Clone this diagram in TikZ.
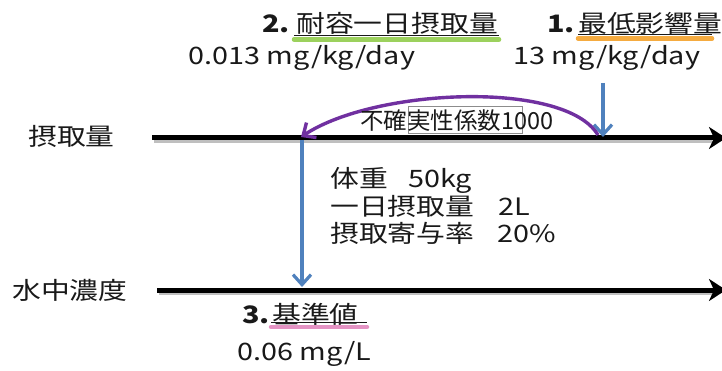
\documentclass[tikz,border=0pt]{standalone}
\usepackage{fontspec}
\setmainfont{Noto Sans CJK JP}[FakeStretch=1.2]
\newfontfamily\lblfont{Noto Sans CJK JP}
\usetikzlibrary{arrows.meta}
\definecolor{axblue}{RGB}{79,129,189}
\definecolor{arcpurple}{RGB}{112,48,160}
\definecolor{hlgreen}{RGB}{146,204,76}
\definecolor{hlorange}{RGB}{244,162,44}
\definecolor{hlpink}{RGB}{226,136,190}
\definecolor{txtgray}{RGB}{25,25,25}
\begin{document}
\begin{tikzpicture}[x=1pt,y=-1pt,
  txt/.style={inner sep=0pt, anchor=base west, text=txtgray, font=\fontsize{24}{28}\selectfont},
  lbl/.style={inner sep=0pt, anchor=base west, text=txtgray, font=\lblfont\fontsize{23.5}{26}\selectfont},
  axis/.style={line width=5pt, -{Stealth[length=17pt,width=22pt,inset=5pt]}},
  axshadow/.style={line width=5pt, black!25},
  bluearrow/.style={axblue, line width=3.2pt, -{Straight Barb[length=10pt,width=18pt]}},
  purplearrow/.style={arcpurple, line width=3.4pt, -{Straight Barb[length=10pt,width=18pt]}},
  ul/.style={line width=1.2pt, txtgray},
  hl/.style={line width=4.5pt, line cap=round, opacity=0.9}]
\useasboundingbox (0,0) rectangle (722,371);
\fill[white] (0,0) rectangle (722,371);

% axes
\coordinate (a1s) at (152,138); \coordinate (a1e) at (726,138);
\coordinate (a2s) at (157,290); \coordinate (a2e) at (726,290);
\draw[axshadow] (154,140.5) -- (712,140.5);
\draw[axshadow] (159,292.5) -- (712,292.5);
\draw[axis] (a1s) -- (a1e);
\draw[axis] (a2s) -- (a2e);

% axis labels
\node[txt] (intake) at (28,146) {摂取量};
\node[txt] (conc) at (12,299) {水中濃度};

% headings
\node[txt] (n2) at (262,33) {\textbf{2.}};
\node[txt] (h2) at (296,33) {耐容一日摂取量};
\draw[hl, hlgreen] (294,39.5) -- (499,39.5);
\draw[ul] (294,35.5) -- (499,35.5);
\node[txt] (v2) at (188,65) {0.013 mg/kg/day};

\node[txt] (n1) at (547,33) {\textbf{1.}};
\node[txt] (h1) at (578,33) {最低影響量};
\draw[hl, hlorange] (578,38.5) -- (712,38.5);
\draw[ul] (578,34.5) -- (712,34.5);
\node[txt] (v1) at (513,65) {13 mg/kg/day};

\node[txt] (n3) at (242,323) {\textbf{3.}};
\node[txt] (h3) at (272,323) {基準値};
\draw[hl, hlpink] (271,327) -- (367,327);
\draw[ul] (271,322.5) -- (367,322.5);
\node[txt] (v3) at (237,360) {0.06 mg/L};

% parameter block
\node[txt] (p1a) at (330,188) {体重};
\node[txt] (p1b) at (408,188) {50kg};
\node[txt] (p2a) at (330,215) {一日摂取量};
\node[txt] (p2b) at (498,215) {2L};
\node[txt] (p3a) at (330,243) {摂取寄与率};
\node[txt] (p3b) at (497,243) {20\%};

% arrows
\coordinate (b1s) at (603,83); \coordinate (b1e) at (603,137);
\draw[bluearrow] (b1s) -- (b1e);
\coordinate (b2s) at (302,140); \coordinate (b2e) at (302,287);
\draw[bluearrow] (b2s) -- (b2e);

\coordinate (ps) at (598,135); \coordinate (pe) at (301,137);
\draw[purplearrow] (ps) .. controls (565,80) and (375,88) .. (pe);

% factor label
\draw[black!45, line width=0.6pt] (408,106) rectangle (522,133);
\node[lbl] (factor) at (360,130) {不確実性係数1000};
\end{tikzpicture}
\end{document}
